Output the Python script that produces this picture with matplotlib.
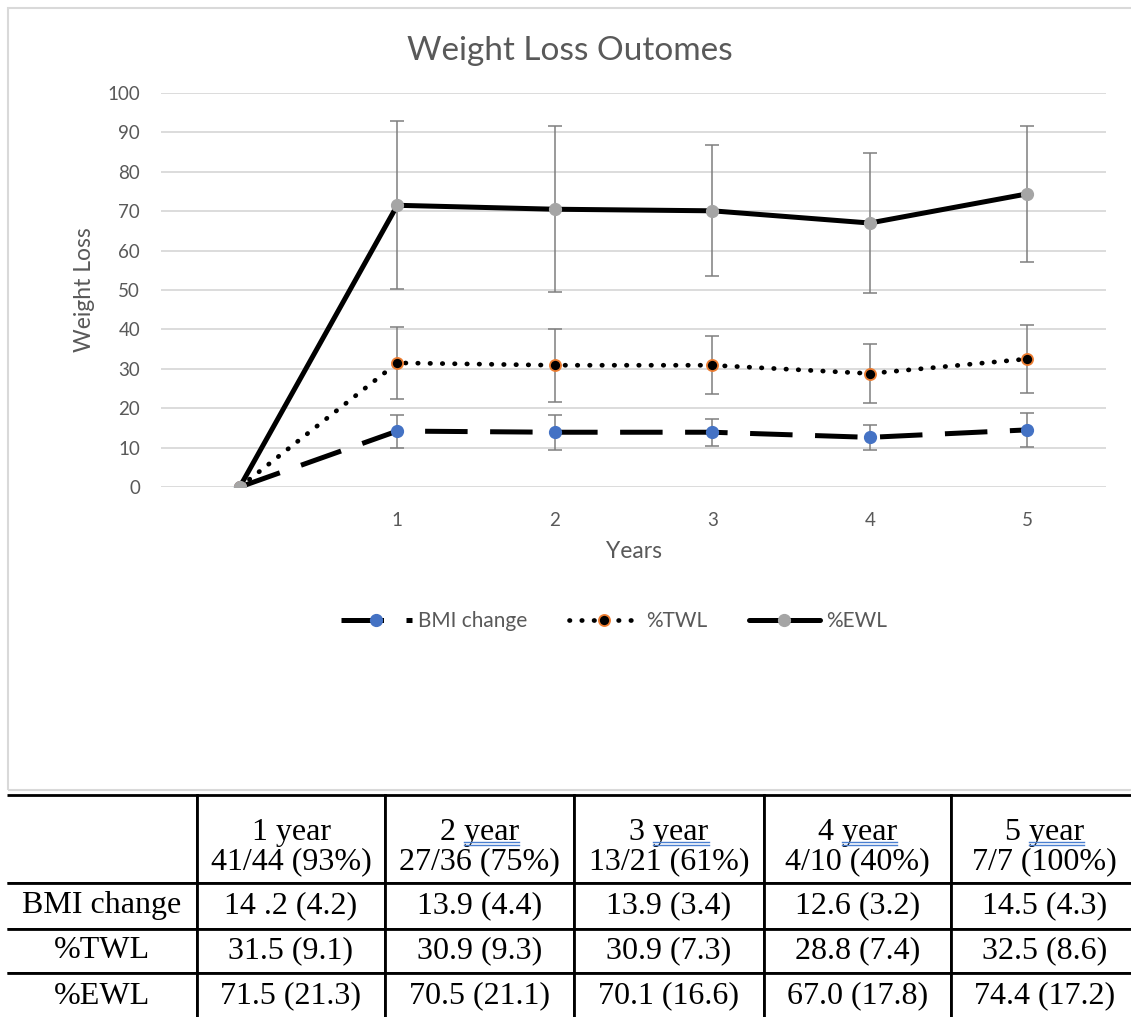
import matplotlib.pyplot as plt
import numpy as np
from matplotlib.patches import Rectangle
from matplotlib.lines import Line2D
from matplotlib.transforms import Affine2D, IdentityTransform

# chart data (mean and SD per year, first point is the baseline at 0)
years = ["", "1", "2", "3", "4", "5"]
bmi_mean = [0, 14.2, 13.9, 13.9, 12.6, 14.5]
bmi_sd = [0, 4.2, 4.4, 3.4, 3.2, 4.3]
twl_mean = [0, 31.5, 30.9, 30.9, 28.8, 32.5]
twl_sd = [0, 9.1, 9.3, 7.3, 7.4, 8.6]
ewl_mean = [0, 71.5, 70.5, 70.1, 67.0, 74.4]
ewl_sd = [0, 21.3, 21.1, 16.6, 17.8, 17.2]

# table below the chart
table_header = ["", "1 year\n41/44 (93%)", "2 year\n27/36 (75%)", "3 year\n13/21 (61%)",
                "4 year\n4/10 (40%)", "5 year\n7/7 (100%)"]
table_rows = ["BMI change", "%TWL", "%EWL"]
bmi_cells = ["14 .2 (4.2)", "13.9 (4.4)", "13.9 (3.4)", "12.6 (3.2)", "14.5 (4.3)"]
twl_cells = ["31.5 (9.1)", "30.9 (9.3)", "30.9 (7.3)", "28.8 (7.4)", "32.5 (8.6)"]
ewl_cells = ["71.5 (21.3)", "70.5 (21.1)", "70.1 (16.6)", "67.0 (17.8)", "74.4 (17.2)"]

W, H = 1131, 1017
txt = '#595959'
grid = '#d9d9d9'
plt.rcParams['font.family'] = ['Lato', 'DejaVu Sans']

fig = plt.figure(figsize=(W / 100, H / 100), dpi=100)

# chart frame
fig.patches.append(Rectangle((8 / W, 1 - 790 / H), 1.0, (790 - 8) / H, transform=fig.transFigure,
                             fill=False, edgecolor=grid, lw=1.5))

ax = fig.add_axes([161 / W, 1 - 487 / H, (1106 - 161) / W, (487 - 93) / H])
x = np.arange(len(years))

err_kw = dict(fmt='none', ecolor='#7f7f7f', elinewidth=1.1, capsize=5, capthick=1.1, zorder=2)
ax.errorbar(x[1:], bmi_mean[1:], yerr=bmi_sd[1:], **err_kw)
ax.errorbar(x[1:], twl_mean[1:], yerr=twl_sd[1:], **err_kw)
ax.errorbar(x[1:], ewl_mean[1:], yerr=ewl_sd[1:], **err_kw)

l1, = ax.plot(x, bmi_mean, color='black', lw=3.6, linestyle=(0, (8.5, 4.5)),
              marker='o', markersize=8.5, markerfacecolor='#4472c4', markeredgecolor='#4472c4',
              zorder=3, label='BMI change')
l2, = ax.plot(x, twl_mean, color='black', lw=3.4, linestyle=(0, (0.1, 2.5)), dash_capstyle='round',
              marker='o', markersize=8, markerfacecolor='black', markeredgecolor='#ed7d31',
              markeredgewidth=1.3, zorder=3, label='%TWL')
l3, = ax.plot(x, ewl_mean, color='black', lw=3.6, solid_capstyle='round',
              marker='o', markersize=8.5, markerfacecolor='#a5a5a5', markeredgecolor='#a5a5a5',
              zorder=3, label='%EWL')

ax.set_xlim(-0.5, 5.5)
ax.set_ylim(0, 100)
ax.set_yticks(np.arange(0, 101, 10))
ax.set_xticks(x)
ax.set_xticklabels(years)
ax.grid(axis='y', color=grid, lw=1.3)
ax.set_axisbelow(True)
for s in ax.spines.values():
    s.set_visible(False)
ax.tick_params(axis='both', length=0, labelsize=13.5, labelcolor=txt)
ax.tick_params(axis='y', pad=15)
ax.tick_params(axis='x', pad=18)
ax.set_ylabel('Weight Loss', fontsize=16.5, color=txt, labelpad=9)
ax.set_xlabel('Years', fontsize=16.5, color=txt, labelpad=9)

fig.text(570 / W, 1 - 51 / H, 'Weight Loss Outomes', ha='center', va='center',
         fontsize=24, color=txt)

fig.legend(handles=[l1, l2, l3], loc='center', bbox_to_anchor=(614 / W, 1 - 621 / H),
           ncol=3, frameon=False, fontsize=15, labelcolor=txt, handlelength=3.4,
           columnspacing=2.0, handletextpad=0.3)

# table
tax = fig.add_axes([7 / W, 1 - 1019 / H, 1.0, 224 / H])
tax.axis('off')
cell_text = [[name] + vals for name, vals in zip(table_rows, [bmi_cells, twl_cells, ewl_cells])]
col_w = np.array([190, 188, 189, 190, 187, 187]) / 1131
tbl = tax.table(cellText=cell_text, colLabels=table_header, colWidths=col_w,
                cellLoc='center', bbox=[0, 0, 1, 1])
tbl.auto_set_font_size(False)
row_h = [88, 46, 44, 46]
for (r, c), cell in tbl.get_celld().items():
    cell.set_height(row_h[r] / 224)
    cell.set_linewidth(2)
    cell.set_edgecolor('black')
    if c == 0:
        cell.visible_edges = 'TRB'
    t = cell.get_text()
    t.set_fontfamily('Liberation Serif')
    t.set_fontsize(23)
    t.set_linespacing(1.0)
    if r == 0:
        t.set_transform(IdentityTransform() + Affine2D().translate(0, -8))

# blue double underline under "year" in the header (spell-check mark)
fig.canvas.draw()
renderer = fig.canvas.get_renderer()
for c in range(2, len(table_header)):
    t = tbl[(0, c)].get_text()
    fp = t.get_fontproperties()
    first = table_header[c].split("\n")[0]
    prefix = first.split(" ")[0] + " "
    w_line, h_line, d_line = renderer.get_text_width_height_descent(first, fp, ismath=False)
    w_pre, _, _ = renderer.get_text_width_height_descent(prefix, fp, ismath=False)
    w_word, _, _ = renderer.get_text_width_height_descent("year", fp, ismath=False)
    bb = t.get_window_extent(renderer)
    x0 = (bb.x0 + bb.x1) / 2 - w_line / 2 + w_pre
    y_base = bb.y1 - (h_line - d_line) - 3
    for dy in (0, -2.5):
        fig.add_artist(Line2D([x0 / W, (x0 + w_word) / W], [(y_base + dy) / H] * 2,
                              transform=fig.transFigure, color='#4a7fd0', lw=1.0))

fig.savefig('out.png', dpi=100)
